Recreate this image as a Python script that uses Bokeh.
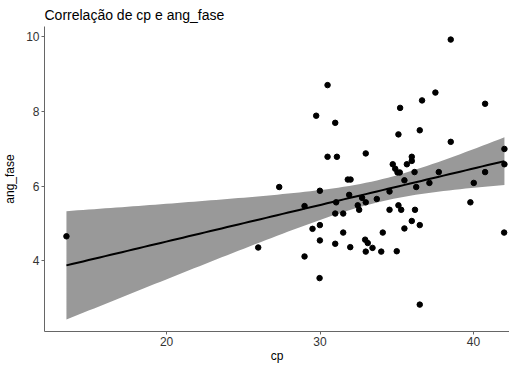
import numpy as np
from bokeh.plotting import figure
from bokeh.models import Range1d, FixedTicker
from bokeh.embed import file_html
from bokeh.resources import INLINE

cp = [13.47, 25.97, 27.34, 28.99, 28.99, 29.51, 29.75, 29.99, 29.99, 29.99,
      29.97, 30.49, 30.49, 30.99, 31.10, 31.05, 30.99, 30.99, 31.51, 31.51,
      31.81, 31.99, 31.90, 31.97, 32.46, 32.55, 32.74, 32.98, 32.98, 32.94,
      33.11, 32.98, 33.42, 33.70, 33.99, 34.09, 34.53, 34.53, 34.74, 34.90,
      35.05, 35.20, 35.11, 35.29, 35.00, 35.11, 35.22, 35.50, 35.50, 35.66,
      35.98, 35.98, 35.98, 36.16, 36.19, 36.27, 36.50, 36.50, 36.50, 36.65,
      37.13, 37.52, 37.74, 38.52, 38.52, 39.80, 40.02, 40.76, 40.76, 42.02,
      42.02, 42.00]
ang_fase = [4.66, 4.36, 5.98, 5.47, 4.12, 4.86, 7.89, 5.88, 4.96, 4.55,
            3.54, 8.71, 6.79, 7.70, 6.79, 5.57, 5.27, 4.46, 5.27, 4.76,
            6.18, 6.18, 5.77, 4.37, 5.49, 5.37, 5.69, 6.88, 5.57, 4.57,
            4.48, 4.25, 4.35, 5.66, 4.25, 4.76, 5.86, 5.37, 6.59, 6.47,
            6.37, 6.37, 5.49, 5.37, 4.26, 7.39, 8.10, 6.16, 4.87, 6.59,
            6.79, 6.68, 5.07, 6.38, 5.37, 5.98, 7.50, 4.96, 2.83, 8.30,
            6.09, 8.51, 6.38, 9.93, 7.19, 5.57, 6.09, 8.21, 6.38, 7.00,
            6.59, 4.76]
x_ticks = [20, 30, 40]
y_ticks = [4, 6, 8, 10]

# linear model fit with 95% confidence band (as geom_smooth(method="lm"))
x = np.array(cp)
y = np.array(ang_fase)
n = len(x)
b1, b0 = np.polyfit(x, y, 1)
resid = y - (b0 + b1 * x)
s = np.sqrt(np.sum(resid ** 2) / (n - 2))
xm = x.mean()
sxx = np.sum((x - xm) ** 2)
t_crit = 1.994
xg = np.linspace(x.min(), x.max(), 80)
yg = b0 + b1 * xg
se = s * np.sqrt(1.0 / n + (xg - xm) ** 2 / sxx)
lower = yg - t_crit * se
upper = yg + t_crit * se

p = figure(frame_width=465, frame_height=305, output_backend="svg", toolbar_location=None,
           x_range=Range1d(12.04, 42.35), y_range=Range1d(2.11, 10.28),
           title="Correlação de cp e ang_fase",
           min_border_left=0, min_border_right=0, min_border_top=0, min_border_bottom=0)

p.varea(x=xg, y1=lower, y2=upper, fill_color="#999999", fill_alpha=1.0)
p.line(xg, yg, line_color="black", line_width=2)
p.scatter(cp, ang_fase, size=5.5, fill_color="black", line_color="black")

p.grid.visible = False
p.outline_line_color = None
p.background_fill_color = "white"
p.border_fill_color = "white"

p.title.text_font = "Liberation Sans"
p.title.text_font_size = "14px"
p.title.text_font_style = "normal"
p.title.text_color = "black"
p.title.offset = 0
p.title.standoff = 8

for ax in (p.xaxis[0], p.yaxis[0]):
    ax.axis_line_color = "#666666"
    ax.major_tick_line_color = "#666666"
    ax.major_tick_out = 3
    ax.major_tick_in = 0
    ax.minor_tick_line_color = None
    ax.major_label_text_font = "Liberation Sans"
    ax.major_label_text_font_size = "12px"
    ax.major_label_text_color = "#333333"
    ax.axis_label_text_font = "Liberation Sans"
    ax.axis_label_text_font_size = "12px"
    ax.axis_label_text_font_style = "normal"
    ax.axis_label_text_color = "black"
    ax.major_label_standoff = 2
    ax.axis_label_standoff = 0

p.yaxis[0].axis_label_standoff = 6
p.xaxis[0].ticker = FixedTicker(ticks=x_ticks)
p.yaxis[0].ticker = FixedTicker(ticks=y_ticks)
p.xaxis.axis_label = "cp"
p.yaxis.axis_label = "ang_fase"

open("out.html", "w").write(file_html(p, INLINE))
